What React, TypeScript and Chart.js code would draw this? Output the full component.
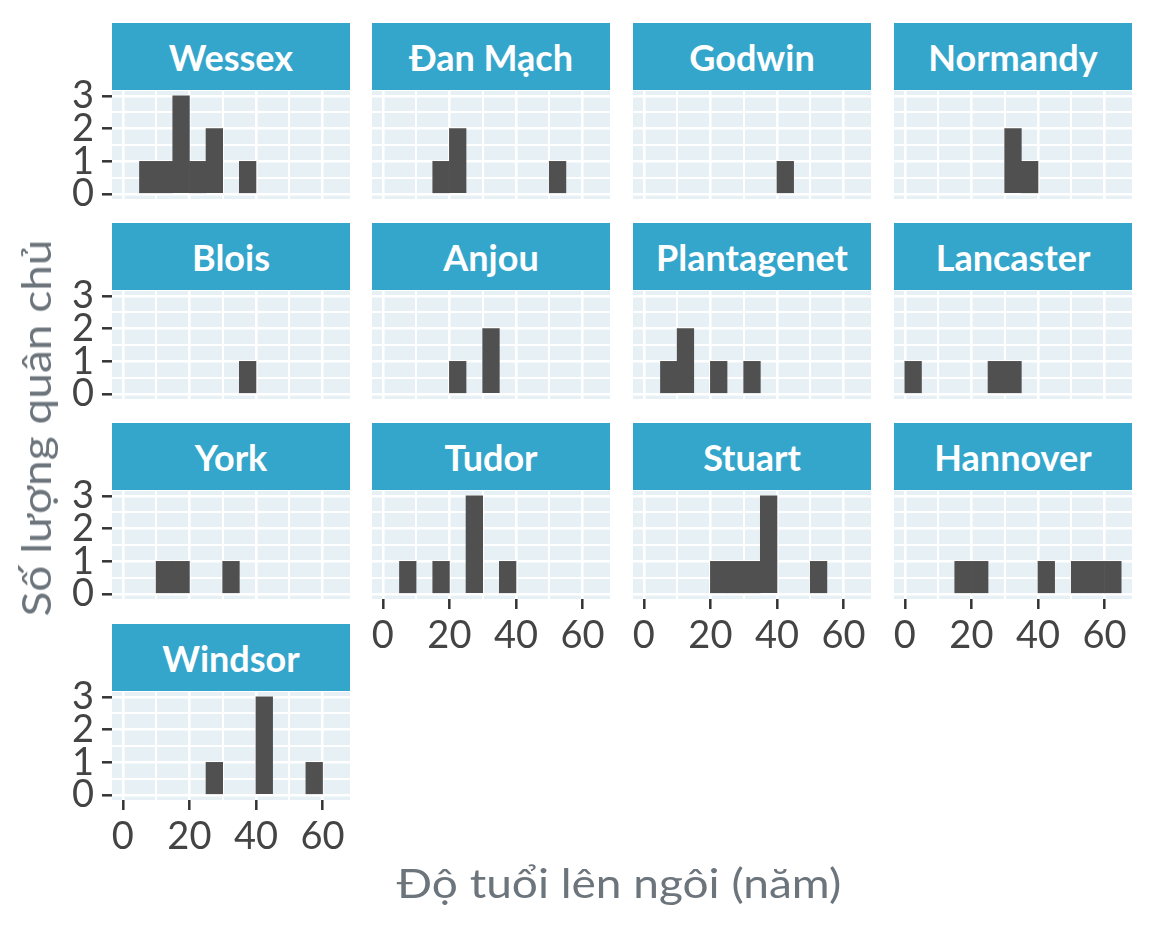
import React, { useEffect, useRef } from "react";
import { Chart, registerables } from "chart.js";

Chart.register(...registerables);

// ---- Data ----
const binStarts = [0, 5, 10, 15, 20, 25, 30, 35, 40, 45, 50, 55, 60];
const binWidth = 5;

const dynastyNames = [
  "Wessex", "Đan Mạch", "Godwin", "Normandy",
  "Blois", "Anjou", "Plantagenet", "Lancaster",
  "York", "Tudor", "Stuart", "Hannover",
  "Windsor",
];

const countsWessex = [0, 1, 1, 3, 1, 2, 0, 1, 0, 0, 0, 0, 0];
const countsDanMach = [0, 0, 0, 1, 2, 0, 0, 0, 0, 0, 1, 0, 0];
const countsGodwin = [0, 0, 0, 0, 0, 0, 0, 0, 1, 0, 0, 0, 0];
const countsNormandy = [0, 0, 0, 0, 0, 0, 2, 1, 0, 0, 0, 0, 0];
const countsBlois = [0, 0, 0, 0, 0, 0, 0, 1, 0, 0, 0, 0, 0];
const countsAnjou = [0, 0, 0, 0, 1, 0, 2, 0, 0, 0, 0, 0, 0];
const countsPlantagenet = [0, 1, 2, 0, 1, 0, 1, 0, 0, 0, 0, 0, 0];
const countsLancaster = [1, 0, 0, 0, 0, 1, 1, 0, 0, 0, 0, 0, 0];
const countsYork = [0, 0, 1, 1, 0, 0, 1, 0, 0, 0, 0, 0, 0];
const countsTudor = [0, 1, 0, 1, 0, 3, 0, 1, 0, 0, 0, 0, 0];
const countsStuart = [0, 0, 0, 0, 1, 1, 1, 3, 0, 0, 1, 0, 0];
const countsHannover = [0, 0, 0, 1, 1, 0, 0, 0, 1, 0, 1, 1, 1];
const countsWindsor = [0, 0, 0, 0, 0, 1, 0, 0, 3, 0, 0, 1, 0];

const allCounts = [
  countsWessex, countsDanMach, countsGodwin, countsNormandy,
  countsBlois, countsAnjou, countsPlantagenet, countsLancaster,
  countsYork, countsTudor, countsStuart, countsHannover,
  countsWindsor,
];

const xGridValues = [0, 10, 20, 30, 40, 50, 60];
const xLabelValues = [0, 20, 40, 60];
const yGridValues = [0, 0.5, 1, 1.5, 2, 2.5, 3];
const yLabelValues = [0, 1, 2, 3];

const xTitle = "Độ tuổi lên ngôi (năm)";
const yTitle = "Số lượng quân chủ";

// ---- Style / layout ----
const FONT = "Lato, 'DejaVu Sans', sans-serif";
const STRIP_BG = "#35A6CB";
const PANEL_BG = "#E6F0F5";
const BAR_COLOR = "#505050";
const TICK_TEXT = "#444444";
const TITLE_TEXT = "#6C747C";

const COL_LEFT = [112, 372, 633, 894];
const ROW_TOP = [23, 223, 423, 624];
const PANEL_W = 238;
const STRIP_H = 67;
const PANEL_OFFSET = 68;
const PANEL_H = 108;
const Y_AXIS_W = 72;
const X_AXIS_H = 60;
const LABEL_PAD = 22;
const TICK_FONT = 38;

const panelBgPlugin = {
  id: "panelBg",
  beforeDraw(chart: any) {
    const { ctx, chartArea: a } = chart;
    ctx.save();
    ctx.fillStyle = PANEL_BG;
    ctx.fillRect(a.left, a.top, a.right - a.left, a.bottom - a.top);
    ctx.restore();
  },
};

type PanelProps = {
  counts: number[];
  showX: boolean;
  showY: boolean;
  padTop: number;
  padBottom: number;
};

function PanelChart({ counts, showX, showY, padTop, padBottom }: PanelProps) {
  const ref = useRef<HTMLCanvasElement | null>(null);
  useEffect(() => {
    if (!ref.current) return;
    const chart = new Chart(ref.current, {
      type: "bar",
      data: {
        datasets: [
          {
            data: binStarts.map((b, i) => ({
              x: b + binWidth / 2,
              y: counts[i] > 0 ? counts[i] : null,
            })),
            backgroundColor: BAR_COLOR,
            borderWidth: 0,
            barPercentage: 1,
            categoryPercentage: 1,
          },
        ],
      },
      options: {
        animation: false,
        responsive: true,
        maintainAspectRatio: false,
        layout: { padding: { top: padTop, bottom: padBottom, left: 0, right: 0 } },
        plugins: {
          legend: { display: false },
          tooltip: { enabled: false },
          title: { display: false },
        },
        scales: {
          x: {
            type: "linear",
            offset: false,
            min: -3.25,
            max: 68.25,
            afterBuildTicks: (s: any) => {
              s.ticks = xGridValues.map((v) => ({ value: v }));
            },
            afterFit: (s: any) => {
              s.height = showX ? X_AXIS_H : 0;
              s.paddingLeft = 0;
              s.paddingRight = 0;
            },
            border: { display: false },
            grid: {
              offset: false,
              color: "#FFFFFF",
              lineWidth: (c: any) => (c.tick && c.tick.value % 20 === 0 ? 2.6 : 2),
              drawTicks: showX,
              tickLength: 10,
              tickWidth: 2.5,
              tickColor: (c: any) =>
                c.tick && xLabelValues.includes(c.tick.value) ? "#333333" : "rgba(0,0,0,0)",
            },
            ticks: {
              display: showX,
              autoSkip: false,
              maxRotation: 0,
              minRotation: 0,
              padding: 4,
              color: TICK_TEXT,
              font: { family: FONT, size: TICK_FONT },
              callback: (v: any) => (xLabelValues.includes(Number(v)) ? String(v) : ""),
            },
          },
          y: {
            type: "linear",
            min: -0.15,
            max: 3.15,
            afterBuildTicks: (s: any) => {
              s.ticks = yGridValues.map((v) => ({ value: v }));
            },
            afterFit: (s: any) => {
              s.width = showY ? Y_AXIS_W : 0;
              s.paddingTop = 0;
              s.paddingBottom = 0;
            },
            border: { display: false },
            grid: {
              color: "#FFFFFF",
              lineWidth: (c: any) => (c.tick && c.tick.value % 1 === 0 ? 2.6 : 2),
              drawTicks: showY,
              tickLength: 10,
              tickWidth: 2.5,
              tickColor: (c: any) =>
                c.tick && yLabelValues.includes(c.tick.value) ? "#333333" : "rgba(0,0,0,0)",
            },
            ticks: {
              display: showY,
              autoSkip: false,
              padding: 8,
              color: TICK_TEXT,
              font: { family: FONT, size: TICK_FONT },
              callback: (v: any) => (yLabelValues.includes(Number(v)) ? String(v) : ""),
            },
          },
        },
      } as any,
      plugins: [panelBgPlugin],
    });
    return () => chart.destroy();
  }, [counts, showX, showY, padTop, padBottom]);
  return <canvas ref={ref} />;
}

export default function App() {
  const nPanels = dynastyNames.length;
  const panels = dynastyNames.map((name, i) => {
    const col = i % 4;
    const row = Math.floor(i / 4);
    const showY = col === 0;
    const showX = i + 4 >= nPanels;
    const padTop = showY ? LABEL_PAD : 0;
    const padBottom = showY && !showX ? LABEL_PAD : 0;
    const stripTop = ROW_TOP[row];
    const panelTop = stripTop + PANEL_OFFSET;
    const canvasLeft = COL_LEFT[col] - (showY ? Y_AXIS_W : 0);
    const canvasW = PANEL_W + (showY ? Y_AXIS_W : 0);
    const canvasH = PANEL_H + (showX ? X_AXIS_H : 0) + padTop + padBottom;
    return (
      <React.Fragment key={name}>
        <div
          style={{
            position: "absolute",
            left: COL_LEFT[col],
            top: stripTop,
            width: PANEL_W,
            height: STRIP_H,
            background: STRIP_BG,
            color: "#FFFFFF",
            fontFamily: FONT,
            fontWeight: 700,
            fontSize: 36,
            display: "flex",
            alignItems: "center",
            justifyContent: "center",
            whiteSpace: "nowrap",
          }}
        >
          {name}
        </div>
        <div
          style={{
            position: "absolute",
            left: canvasLeft,
            top: panelTop - padTop,
            width: canvasW,
            height: canvasH,
          }}
        >
          <PanelChart
            counts={allCounts[i]}
            showX={showX}
            showY={showY}
            padTop={padTop}
            padBottom={padBottom}
          />
        </div>
      </React.Fragment>
    );
  });

  return (
    <div
      style={{
        position: "fixed",
        left: 0,
        top: 0,
        width: 1152,
        height: 928,
        background: "#FFFFFF",
        overflow: "hidden",
        fontFamily: FONT,
      }}
    >
      {panels}
      <div
        style={{
          position: "absolute",
          left: 619 - 300,
          top: 858,
          width: 600,
          height: 50,
          lineHeight: "50px",
          textAlign: "center",
          fontSize: 40,
          color: TITLE_TEXT,
          whiteSpace: "nowrap",
          transform: "scaleX(1.15)",
        }}
      >
        {xTitle}
      </div>
      <div
        style={{
          position: "absolute",
          left: 36 - 250,
          top: 428 - 25,
          width: 500,
          height: 50,
          lineHeight: "50px",
          textAlign: "center",
          fontSize: 40,
          color: TITLE_TEXT,
          whiteSpace: "nowrap",
          transform: "rotate(-90deg) scaleX(1.15)",
        }}
      >
        {yTitle}
      </div>
    </div>
  );
}
